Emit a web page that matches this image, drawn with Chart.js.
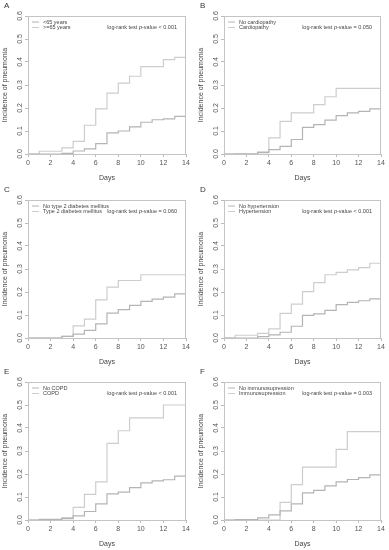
<!DOCTYPE html>
<html>
<head>
<meta charset="utf-8">
<script src="https://cdn.jsdelivr.net/npm/chart.js@4"></script>
<style>
  body { margin: 0; background: #fff; width: 389px; height: 550px; position: relative; overflow: hidden; }
  canvas { position: absolute; }
</style>
</head>
<body>
<canvas id="cA" width="194" height="183" style="left:0;top:0"></canvas>
<canvas id="cB" width="193" height="183" style="left:196px;top:0"></canvas>
<canvas id="cC" width="194" height="183" style="left:0;top:184px"></canvas>
<canvas id="cD" width="193" height="183" style="left:196px;top:184px"></canvas>
<canvas id="cE" width="194" height="183" style="left:0;top:366px"></canvas>
<canvas id="cF" width="193" height="183" style="left:196px;top:366px"></canvas>
<script>
// days of follow-up, one value per day (cumulative incidence after that day)
var days = [0, 1, 2, 3, 4, 5, 6, 7, 8, 9, 10, 11, 12, 13, 14];
var xTicks = [0, 2, 4, 6, 8, 10, 12, 14];
var yTicks = [0.0, 0.1, 0.2, 0.3, 0.4, 0.5, 0.6];

// A - age
var ageUnder65 = [0, 0, 0, 0.003, 0.013, 0.022, 0.045, 0.092, 0.1, 0.118, 0.138, 0.149, 0.153, 0.164, 0.164];
var ageOver65 = [0, 0.012, 0.012, 0.027, 0.055, 0.125, 0.196, 0.265, 0.308, 0.338, 0.38, 0.38, 0.41, 0.42, 0.42];
// B - cardiopathy
var noCardio = [0, 0, 0, 0.006, 0.019, 0.033, 0.063, 0.116, 0.128, 0.147, 0.167, 0.179, 0.185, 0.196, 0.196];
var cardio = [0, 0.002, 0.002, 0.009, 0.07, 0.142, 0.179, 0.179, 0.215, 0.249, 0.285, 0.285, 0.285, 0.285, 0.285];
// C - type 2 diabetes
var noDiabetes = [0, 0, 0, 0.007, 0.017, 0.033, 0.061, 0.108, 0.123, 0.142, 0.159, 0.169, 0.178, 0.192, 0.192];
var diabetes = [0, 0, 0, 0.007, 0.053, 0.082, 0.166, 0.221, 0.25, 0.25, 0.275, 0.275, 0.275, 0.275, 0.275];
// D - hypertension
var noHyper = [0, 0, 0, 0.006, 0.014, 0.025, 0.051, 0.098, 0.105, 0.12, 0.145, 0.155, 0.162, 0.17, 0.17];
var hyper = [0, 0.012, 0.012, 0.02, 0.04, 0.107, 0.147, 0.202, 0.241, 0.275, 0.285, 0.296, 0.306, 0.325, 0.325];
// E - COPD
var noCopd = [0, 0.003, 0.003, 0.006, 0.018, 0.037, 0.07, 0.114, 0.121, 0.141, 0.161, 0.17, 0.175, 0.191, 0.191];
var copd = [0, 0, 0, 0.01, 0.055, 0.111, 0.166, 0.333, 0.388, 0.444, 0.444, 0.444, 0.5, 0.5, 0.5];
// F - immunosupression
var noImmuno = [0, 0.002, 0.002, 0.009, 0.022, 0.04, 0.07, 0.118, 0.129, 0.148, 0.166, 0.176, 0.184, 0.196, 0.196];
var immuno = [0, 0, 0, 0, 0, 0.077, 0.154, 0.23, 0.23, 0.23, 0.307, 0.384, 0.384, 0.384, 0.384];

var lineColors = ["#b4b4b4", "#cdcdcd"];
var font = "'Liberation Sans', Arial, sans-serif";

// panel letter, box, legend and log-rank text
var decor = {
  id: "decor",
  afterDraw: function (chart, args, opts) {
    var c = chart.ctx, a = chart.chartArea;
    c.save();
    c.strokeStyle = "#c4c4c4";
    c.lineWidth = 1;
    c.strokeRect(Math.round(a.left) + 0.5, Math.round(a.top) + 0.5,
      Math.round(a.right - a.left) - 1, Math.round(a.bottom - a.top));

    c.fillStyle = "#333";
    c.font = "8px " + font;
    c.textBaseline = "middle";
    c.fillText(opts.letter, 4, 6);

    c.font = "5.5px " + font;
    opts.labels.forEach(function (lab, i) {
      var y = a.top + 6 + i * 5.5;
      c.strokeStyle = lineColors[i];
      c.beginPath();
      c.moveTo(a.left + 4, y);
      c.lineTo(a.left + 11, y);
      c.stroke();
      c.fillStyle = "#444";
      c.fillText(lab, a.left + 15, y);
    });

    // log-rank test p-value
    var p1 = "log-rank test ", p2 = "p", p3 = "-value " + opts.pval;
    c.font = "5.5px " + font;
    var w1 = c.measureText(p1).width, w3 = c.measureText(p3).width;
    c.font = "italic 5.5px " + font;
    var w2 = c.measureText(p2).width;
    var x = a.right - 9 - (w1 + w2 + w3), y = a.top + 11;
    c.fillStyle = "#444";
    c.font = "5.5px " + font;
    c.fillText(p1, x, y);
    c.font = "italic 5.5px " + font;
    c.fillText(p2, x + w1, y);
    c.font = "5.5px " + font;
    c.fillText(p3, x + w1 + w2, y);
    c.restore();
  }
};

function makeChart(id, letter, labels, s1, s2, pval) {
  var ctx = document.getElementById(id).getContext("2d");
  return new Chart(ctx, {
    type: "line",
    data: {
      labels: days,
      datasets: [
        { label: labels[0], data: days.map(function (d, i) { return { x: d, y: s1[i] }; }), borderColor: lineColors[0] },
        { label: labels[1], data: days.map(function (d, i) { return { x: d, y: s2[i] }; }), borderColor: lineColors[1] }
      ]
    },
    options: {
      responsive: false,
      animation: false,
      layout: { padding: { top: 16, right: 8, left: 0, bottom: 0 } },
      elements: {
        line: { stepped: true, borderWidth: 1.2, tension: 0 },
        point: { radius: 0 }
      },
      scales: {
        x: {
          type: "linear", min: 0, max: 14,
          afterBuildTicks: function (s) { s.ticks = xTicks.map(function (v) { return { value: v }; }); },
          afterFit: function (s) { s.height = 29; },
          grid: { drawOnChartArea: false, tickLength: 3, color: "#bbb" },
          border: { display: false },
          ticks: { font: { size: 7, family: font }, color: "#555", padding: 2, maxRotation: 0 },
          title: { display: true, text: "Days", font: { size: 7, family: font }, color: "#444", padding: 1 }
        },
        y: {
          min: 0, max: 0.6,
          afterBuildTicks: function (s) { s.ticks = yTicks.map(function (v) { return { value: v }; }); },
          afterFit: function (s) { s.width = 28; },
          grid: { drawOnChartArea: false, tickLength: 3, color: "#bbb" },
          border: { display: false },
          ticks: {
            font: { size: 7, family: font }, color: "#555", padding: 0,
            minRotation: 90, maxRotation: 90, crossAlign: "center",
            callback: function (v) { return v.toFixed(1); }
          },
          title: { display: true, text: "Incidence of pneumonia", font: { size: 7, family: font }, color: "#444", padding: 1 }
        }
      },
      plugins: {
        legend: { display: false },
        tooltip: { enabled: false },
        decor: { letter: letter, labels: labels, pval: pval }
      }
    },
    plugins: [decor]
  });
}

makeChart("cA", "A", ["<65 years", ">=65 years"], ageUnder65, ageOver65, "< 0.001");
makeChart("cB", "B", ["No cardiopathy", "Cardiopathy"], noCardio, cardio, "= 0.050");
makeChart("cC", "C", ["No type 2 diabetes mellitus", "Type 2 diabetes mellitus"], noDiabetes, diabetes, "= 0.060");
makeChart("cD", "D", ["No hypertension", "Hypertension"], noHyper, hyper, "< 0.001");
makeChart("cE", "E", ["No COPD", "COPD"], noCopd, copd, "< 0.001");
makeChart("cF", "F", ["No immunosupression", "Immunosupression"], noImmuno, immuno, "= 0.003");
</script>
</body>
</html>
